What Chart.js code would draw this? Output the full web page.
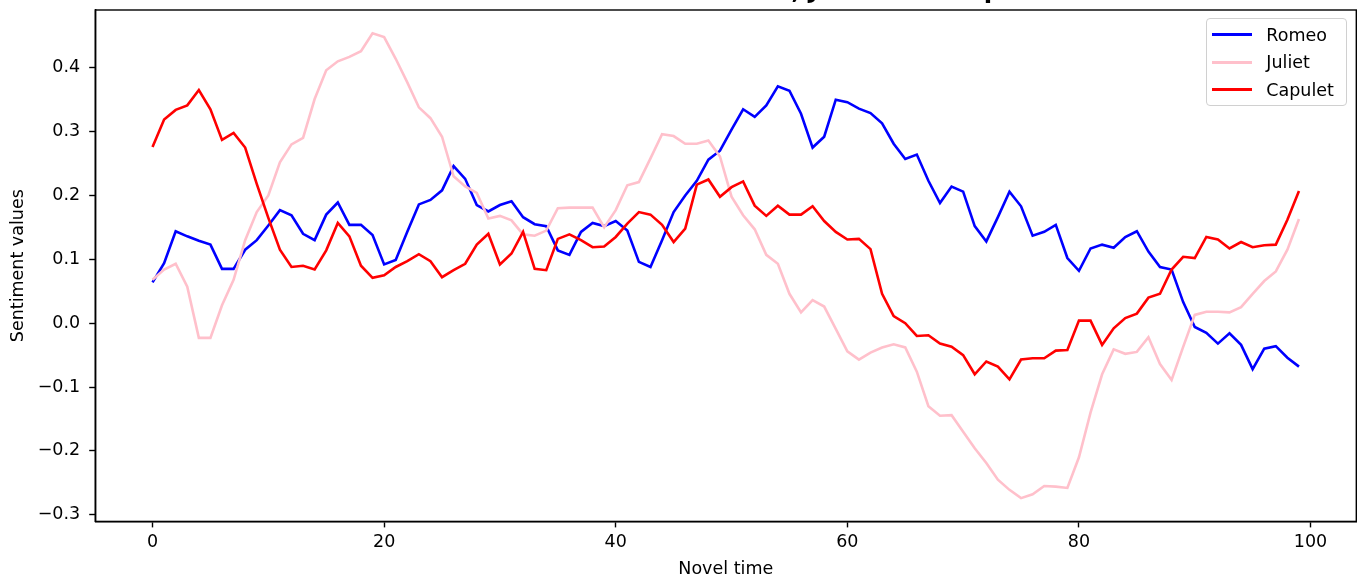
<!DOCTYPE html>
<html>
<head>
<meta charset="utf-8">
<script src="https://cdn.jsdelivr.net/npm/chart.js@4/dist/chart.umd.min.js"></script>
<style>
  html, body { margin: 0; padding: 0; background: #fff; overflow: hidden; }
  #wrap { position: relative; width: 1357px; height: 578px; overflow: hidden; }
  #holder { position: absolute; left: 0; top: -21px; width: 1357px; height: 599px; }
  #legend {
    position: absolute; box-sizing: border-box;
    width: 141px; height: 88px; padding: 2px 0 0 5px;
    border: 1px solid #d0d0d0; border-radius: 4px;
    background: rgba(255, 255, 255, 0.8);
    font-family: "DejaVu Sans", sans-serif; font-size: 17.5px; color: #000;
  }
  #legend .row { display: flex; align-items: center; height: 27.5px; }
  #legend .swatch { width: 40px; height: 2.6px; margin-right: 14px; }
</style>
</head>
<body>
<div id="wrap">
  <div id="holder"><canvas id="chart" width="1357" height="599"></canvas></div>
  <div id="legend"></div>
</div>
<script>
// sentiment per chunk of novel time, one array per character
const romeo = [
  0.064, 0.094, 0.144, 0.136, 0.129, 0.123, 0.085, 0.085, 0.115, 0.130,
  0.153, 0.177, 0.169, 0.140, 0.130, 0.170, 0.189, 0.154, 0.154, 0.138,
  0.092, 0.099, 0.143, 0.186, 0.193, 0.208, 0.246, 0.226, 0.185, 0.175,
  0.185, 0.191, 0.166, 0.155, 0.152, 0.114, 0.107, 0.143, 0.157, 0.152,
  0.160, 0.145, 0.096, 0.088, 0.130, 0.174, 0.200, 0.223, 0.256, 0.270,
  0.303, 0.335, 0.323, 0.341, 0.371, 0.364, 0.328, 0.275, 0.292, 0.350,
  0.346, 0.336, 0.329, 0.313, 0.281, 0.257, 0.264, 0.223, 0.188, 0.214,
  0.206, 0.152, 0.128, 0.166, 0.206, 0.183, 0.137, 0.143, 0.154, 0.102,
  0.082, 0.117, 0.123, 0.118, 0.135, 0.144, 0.112, 0.088, 0.084, 0.033,
  -0.006, -0.015, -0.032, -0.016, -0.034, -0.072, -0.040, -0.036, -0.054, -0.068
];
const juliet = [
  0.068, 0.084, 0.093, 0.057, -0.023, -0.023, 0.028, 0.068, 0.130, 0.174,
  0.200, 0.252, 0.280, 0.290, 0.351, 0.396, 0.410, 0.417, 0.426, 0.454,
  0.448, 0.414, 0.377, 0.338, 0.321, 0.292, 0.230, 0.214, 0.204, 0.164,
  0.168, 0.161, 0.139, 0.137, 0.145, 0.180, 0.181, 0.181, 0.181, 0.150,
  0.177, 0.216, 0.221, 0.258, 0.296, 0.293, 0.281, 0.281, 0.286, 0.261,
  0.198, 0.169, 0.147, 0.107, 0.093, 0.046, 0.017, 0.036, 0.026, -0.009,
  -0.044, -0.057, -0.046, -0.038, -0.033, -0.038, -0.076, -0.130, -0.145, -0.144,
  -0.170, -0.196, -0.219, -0.245, -0.261, -0.274, -0.268, -0.255, -0.256, -0.258,
  -0.210, -0.140, -0.080, -0.041, -0.048, -0.045, -0.022, -0.064, -0.089, -0.037,
  0.013, 0.018, 0.018, 0.017, 0.025, 0.046, 0.066, 0.081, 0.115, 0.163
];
const capulet = [
  0.276, 0.319, 0.334, 0.341, 0.365, 0.335, 0.287, 0.298, 0.275, 0.218,
  0.165, 0.115, 0.088, 0.090, 0.084, 0.114, 0.157, 0.136, 0.090, 0.071,
  0.075, 0.088, 0.097, 0.108, 0.097, 0.072, 0.083, 0.093, 0.123, 0.140,
  0.092, 0.109, 0.143, 0.085, 0.083, 0.132, 0.139, 0.130, 0.119, 0.120,
  0.135, 0.156, 0.174, 0.170, 0.154, 0.127, 0.148, 0.217, 0.225, 0.198,
  0.213, 0.222, 0.184, 0.168, 0.184, 0.170, 0.170, 0.183, 0.160, 0.143,
  0.131, 0.132, 0.116, 0.046, 0.011, 0.000, -0.020, -0.019, -0.032, -0.037,
  -0.050, -0.080, -0.060, -0.068, -0.088, -0.057, -0.055, -0.055, -0.043, -0.042,
  0.004, 0.004, -0.034, -0.008, 0.008, 0.015, 0.040, 0.046, 0.084, 0.104,
  0.102, 0.135, 0.131, 0.117, 0.127, 0.119, 0.122, 0.123, 0.162, 0.207
];

const names = ["Romeo", "Juliet", "Capulet"];
const colors = ["blue", "pink", "red"];
const xTicks = [0, 20, 40, 60, 80, 100];
const yTicks = [-0.3, -0.2, -0.1, 0.0, 0.1, 0.2, 0.3, 0.4];

const novelTime = romeo.map((_, i) => i);
const series = [romeo, juliet, capulet];

// 5% padding around the data, same as the default autoscale margins
const allY = series.flat();
const yLo = Math.min(...allY), yHi = Math.max(...allY);
const yPad = (yHi - yLo) * 0.05;
const xPad = (novelTime[novelTime.length - 1] - novelTime[0]) * 0.05;

const fmtTick = (v) => (v < 0 ? "\u2212" : "") + Math.abs(v).toFixed(1);

// box around the plot area
const frame = {
  id: "frame",
  afterDraw(chart) {
    const { ctx, chartArea: a } = chart;
    ctx.save();
    ctx.strokeStyle = "#000";
    ctx.lineWidth = 1.4;
    ctx.strokeRect(a.left, a.top, a.right - a.left, a.bottom - a.top);
    ctx.restore();
  }
};

Chart.defaults.font.family = "'DejaVu Sans', sans-serif";
Chart.defaults.color = "#000";

const tickStyle = {
  display: true,
  drawOnChartArea: false,
  drawTicks: true,
  tickLength: 6,
  tickWidth: 1.4,
  tickColor: "#000"
};

const chart = new Chart(document.getElementById("chart"), {
  type: "line",
  data: {
    datasets: names.map((name, k) => ({
      label: name,
      data: series[k].map((y, i) => ({ x: novelTime[i], y })),
      borderColor: colors[k],
      backgroundColor: colors[k],
      borderWidth: 2.6,
      pointRadius: 0,
      tension: 0,
      fill: false,
      order: names.length - 1 - k
    }))
  },
  options: {
    responsive: false,
    animation: false,
    devicePixelRatio: 1,
    layout: { padding: { left: 0, right: 0.7, top: 0, bottom: 0 } },
    plugins: {
      legend: { display: false },
      tooltip: { enabled: false },
      title: {
        display: true,
        fullSize: false,
        text: "Sentiment Scores for Romeo, Juliet and Capulet",
        font: { size: 24.5, weight: "bold", lineHeight: 1 },
        padding: { top: 0, bottom: 6.5 }
      }
    },
    scales: {
      x: {
        type: "linear",
        min: novelTime[0] - xPad,
        max: novelTime[novelTime.length - 1] + xPad,
        afterFit: (s) => { s.height = 56.6; },
        afterBuildTicks: (s) => { s.ticks = xTicks.map((v) => ({ value: v })); },
        grid: tickStyle,
        border: { display: true, color: "#000", width: 1.4 },
        ticks: { font: { size: 17.5, lineHeight: 1.2 }, padding: 5, maxRotation: 0 },
        title: {
          display: true,
          text: "Novel time",
          font: { size: 17.5, lineHeight: 1 },
          padding: { top: 0, bottom: 0.25 }
        }
      },
      y: {
        type: "linear",
        min: yLo - yPad,
        max: yHi + yPad,
        afterFit: (s) => { s.width = 95.2; },
        afterBuildTicks: (s) => { s.ticks = yTicks.map((v) => ({ value: v })); },
        grid: tickStyle,
        border: { display: true, color: "#000", width: 1.4 },
        ticks: { font: { size: 17.5 }, padding: 9, callback: fmtTick },
        title: {
          display: true,
          text: "Sentiment values",
          font: { size: 17.5, lineHeight: 1 },
          padding: { top: 9.75, bottom: 0 }
        }
      }
    }
  },
  plugins: [frame]
});

// legend in the upper right corner of the plot
const legend = document.getElementById("legend");
const area = chart.chartArea;
legend.style.left = (area.right - 150) + "px";
legend.style.top = (area.top - 21 + 8) + "px";
chart.data.datasets.forEach((ds) => {
  const row = document.createElement("div");
  row.className = "row";
  const sw = document.createElement("span");
  sw.className = "swatch";
  sw.style.background = ds.borderColor;
  const label = document.createElement("span");
  label.textContent = ds.label;
  row.appendChild(sw);
  row.appendChild(label);
  legend.appendChild(row);
});
</script>
</body>
</html>
